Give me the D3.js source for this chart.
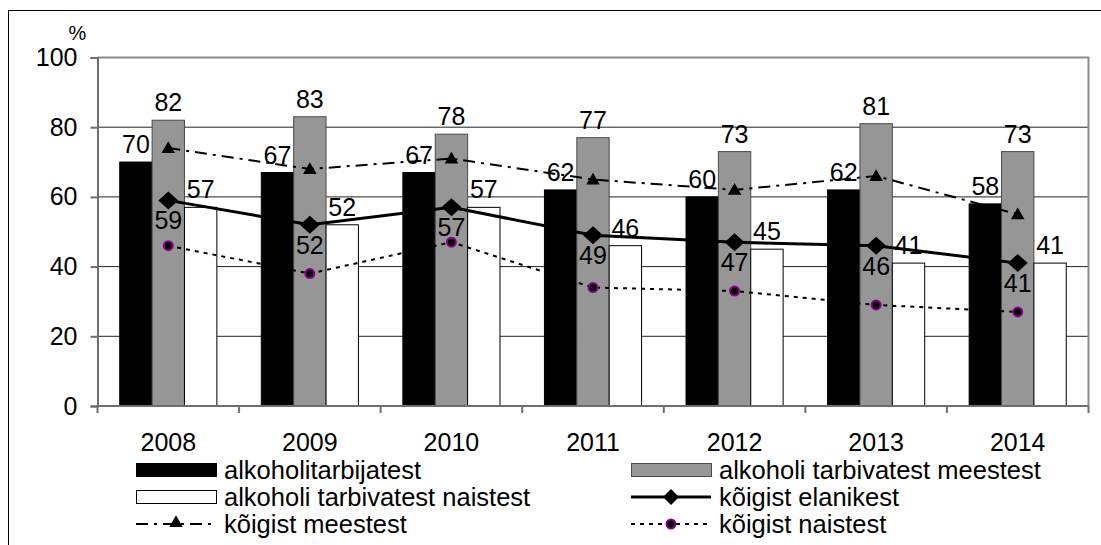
<!DOCTYPE html>
<html>
<head>
<meta charset="utf-8">
<script src="https://cdn.jsdelivr.net/npm/d3@7"></script>
<style>
  html, body { margin: 0; padding: 0; background: #fff; }
  svg text { font-family: "Liberation Sans", Arial, sans-serif; fill: #000; }
</style>
</head>
<body>
<div id="graafik"></div>
<script>
// Andmed
const aastad = ["2008", "2009", "2010", "2011", "2012", "2013", "2014"];
const alkoholitarbijatest = [70, 67, 67, 62, 60, 62, 58];
const tarbivatestMeestest = [82, 83, 78, 77, 73, 81, 73];
const tarbivatestNaistest = [57, 52, 57, 46, 45, 41, 41];
const koigistElanikest = [59, 52, 57, 49, 47, 46, 41];
const koigistMeestest = [74, 68, 71, 65, 62, 66, 55];
const koigistNaistest = [46, 38, 47, 34, 33, 29, 27];
const yTicks = [0, 20, 40, 60, 80, 100];
const gridTicks = [20, 40, 60, 80];

const width = 1101, height = 545;
const plot = { left: 97.5, right: 1088.5, top: 57.5, bottom: 406 };
const fontSize = 25;

const svg = d3.select("#graafik").append("svg")
  .attr("width", width)
  .attr("height", height);

// välimine raam
svg.append("rect")
  .attr("x", 8.5).attr("y", 10.5)
  .attr("width", 1100).attr("height", 560)
  .attr("fill", "none").attr("stroke", "#000").attr("stroke-width", 1);

// skaalad
const y = d3.scaleLinear().domain([0, 100]).range([plot.bottom, plot.top]);
const x0 = d3.scaleBand().domain(aastad).range([plot.left, plot.right])
  .paddingInner(0.314).paddingOuter(0.157);
const x1 = d3.scaleBand().domain(["a", "m", "n"]).range([0, x0.bandwidth()]);
const kesk = d => x0(d) + x0.bandwidth() / 2;

// ruudustik
svg.append("g").selectAll("line").data(gridTicks).join("line")
  .attr("x1", plot.left).attr("x2", plot.right)
  .attr("y1", d => y(d)).attr("y2", d => y(d))
  .attr("stroke", "#222").attr("stroke-width", 1);

// ülemine ja parem serv
svg.append("path")
  .attr("d", `M${plot.left},${y(100)}H${plot.right}V${plot.bottom}`)
  .attr("fill", "none").attr("stroke", "#8c8c8c").attr("stroke-width", 2);

// tulbad
const tulbad = [
  { key: "a", values: alkoholitarbijatest, fill: "#000", stroke: "#000" },
  { key: "m", values: tarbivatestMeestest, fill: "#969696", stroke: "#4a4a4a" },
  { key: "n", values: tarbivatestNaistest, fill: "#fff", stroke: "#000" }
];

tulbad.forEach(s => {
  svg.append("g").selectAll("rect").data(aastad).join("rect")
    .attr("x", (d) => x0(d) + x1(s.key))
    .attr("y", (d, i) => y(s.values[i]))
    .attr("width", x1.bandwidth())
    .attr("height", (d, i) => plot.bottom - y(s.values[i]))
    .attr("fill", s.fill)
    .attr("stroke", s.stroke)
    .attr("stroke-width", 1);
});

// teljed
const yAxis = svg.append("g")
  .attr("transform", `translate(${plot.left},0)`)
  .call(d3.axisLeft(y).tickValues(yTicks).tickSize(7).tickPadding(13));
yAxis.select(".domain").attr("stroke", "#6e6e6e").attr("stroke-width", 2);
yAxis.selectAll(".tick line").attr("stroke", "#6e6e6e").attr("stroke-width", 2);
yAxis.selectAll(".tick text").attr("font-size", fontSize).attr("font-family", null).attr("fill", "#000");

const xAxis = svg.append("g")
  .attr("transform", `translate(0,${plot.bottom})`)
  .call(d3.axisBottom(x0).tickSize(0).tickPadding(27));
xAxis.select(".domain").remove();
xAxis.selectAll(".tick text").attr("font-size", fontSize).attr("font-family", null).attr("fill", "#000");

// aastate vahelised kriipsud
const piirid = d3.range(aastad.length + 1).map(i => plot.left + i * x0.step());
svg.append("line")
  .attr("x1", plot.left - 1).attr("x2", plot.right)
  .attr("y1", plot.bottom).attr("y2", plot.bottom)
  .attr("stroke", "#6e6e6e").attr("stroke-width", 2);
svg.append("g").selectAll("line").data(piirid).join("line")
  .attr("x1", d => d).attr("x2", d => d)
  .attr("y1", plot.bottom).attr("y2", plot.bottom + 7)
  .attr("stroke", "#6e6e6e").attr("stroke-width", 2);

svg.append("text")
  .attr("x", 77.5).attr("y", 40)
  .attr("text-anchor", "middle")
  .attr("font-size", 20)
  .text("%");

// jooned
const joon = vals => d3.line().x((d, i) => kesk(aastad[i])).y(d => y(d))(vals);

svg.append("path").attr("d", joon(koigistMeestest))
  .attr("fill", "none").attr("stroke", "#000").attr("stroke-width", 2)
  .attr("stroke-dasharray", "12,6,3,6");
svg.append("path").attr("d", joon(koigistNaistest))
  .attr("fill", "none").attr("stroke", "#000").attr("stroke-width", 2)
  .attr("stroke-dasharray", "4,5");
svg.append("path").attr("d", joon(koigistElanikest))
  .attr("fill", "none").attr("stroke", "#000").attr("stroke-width", 3);

// markerid
const kolmnurk = d3.symbol().type(d3.symbolTriangle).size(80);

function rombPath(cx, cy, w, h) {
  return `M${cx},${cy - h}L${cx + w},${cy}L${cx},${cy + h}L${cx - w},${cy}Z`;
}

svg.append("g").selectAll("path").data(koigistMeestest).join("path")
  .attr("d", kolmnurk)
  .attr("transform", (d, i) => `translate(${kesk(aastad[i])},${y(d) + 1})`)
  .attr("fill", "#000");

svg.append("g").selectAll("path").data(koigistElanikest).join("path")
  .attr("d", (d, i) => rombPath(kesk(aastad[i]), y(d), 10, 9))
  .attr("fill", "#000");

svg.append("g").selectAll("circle").data(koigistNaistest).join("circle")
  .attr("cx", (d, i) => kesk(aastad[i]))
  .attr("cy", d => y(d))
  .attr("r", 4.5)
  .attr("fill", "#000")
  .attr("stroke", "#8b008b").attr("stroke-width", 2);

// väärtuste sildid
tulbad.forEach(s => {
  svg.append("g").selectAll("text").data(aastad).join("text")
    .attr("x", d => x0(d) + x1(s.key) + x1.bandwidth() / 2)
    .attr("y", (d, i) => y(s.values[i]) - 9)
    .attr("text-anchor", "middle")
    .attr("font-size", fontSize)
    .text((d, i) => s.values[i]);
});

svg.append("g").selectAll("text").data(koigistElanikest).join("text")
  .attr("x", (d, i) => kesk(aastad[i]))
  .attr("y", d => y(d) + 29)
  .attr("text-anchor", "middle")
  .attr("font-size", fontSize)
  .text(d => d);

// legend
const legend = svg.append("g");
const legendItems = [
  { name: "alkoholitarbijatest", type: "rect", fill: "#000", stroke: "#000", col: 0, row: 0 },
  { name: "alkoholi tarbivatest meestest", type: "rect", fill: "#969696", stroke: "#4a4a4a", col: 1, row: 0 },
  { name: "alkoholi tarbivatest naistest", type: "rect", fill: "#fff", stroke: "#000", col: 0, row: 1 },
  { name: "kõigist elanikest", type: "romb", col: 1, row: 1 },
  { name: "kõigist meestest", type: "kolmnurk", col: 0, row: 2 },
  { name: "kõigist naistest", type: "ring", col: 1, row: 2 }
];
const colX = [136, 631];
const rowY = [470, 497, 524];
const symW = 80;

legendItems.forEach(it => {
  const lx = colX[it.col], ly = rowY[it.row];
  if (it.type === "rect") {
    legend.append("rect")
      .attr("x", lx + 0.5).attr("y", ly - 6.5)
      .attr("width", symW).attr("height", 13)
      .attr("fill", it.fill).attr("stroke", it.stroke).attr("stroke-width", 1);
  } else if (it.type === "romb") {
    legend.append("line").attr("x1", lx).attr("x2", lx + symW)
      .attr("y1", ly).attr("y2", ly).attr("stroke", "#000").attr("stroke-width", 3);
    legend.append("path").attr("d", rombPath(lx + symW / 2, ly, 8, 8)).attr("fill", "#000");
  } else if (it.type === "kolmnurk") {
    legend.append("line").attr("x1", lx).attr("x2", lx + symW)
      .attr("y1", ly).attr("y2", ly).attr("stroke", "#000").attr("stroke-width", 2)
      .attr("stroke-dasharray", "12,6,3,6");
    legend.append("path").attr("d", kolmnurk)
      .attr("transform", `translate(${lx + symW / 2},${ly - 1})`).attr("fill", "#000");
  } else {
    legend.append("line").attr("x1", lx).attr("x2", lx + symW)
      .attr("y1", ly).attr("y2", ly).attr("stroke", "#000").attr("stroke-width", 2)
      .attr("stroke-dasharray", "4,5");
    legend.append("circle").attr("cx", lx + symW / 2).attr("cy", ly).attr("r", 4.5)
      .attr("fill", "#000").attr("stroke", "#8b008b").attr("stroke-width", 2);
  }
  legend.append("text")
    .attr("x", lx + symW + 8)
    .attr("y", ly + 8.5)
    .attr("font-size", 25.5)
    .text(it.name);
});
</script>
</body>
</html>
